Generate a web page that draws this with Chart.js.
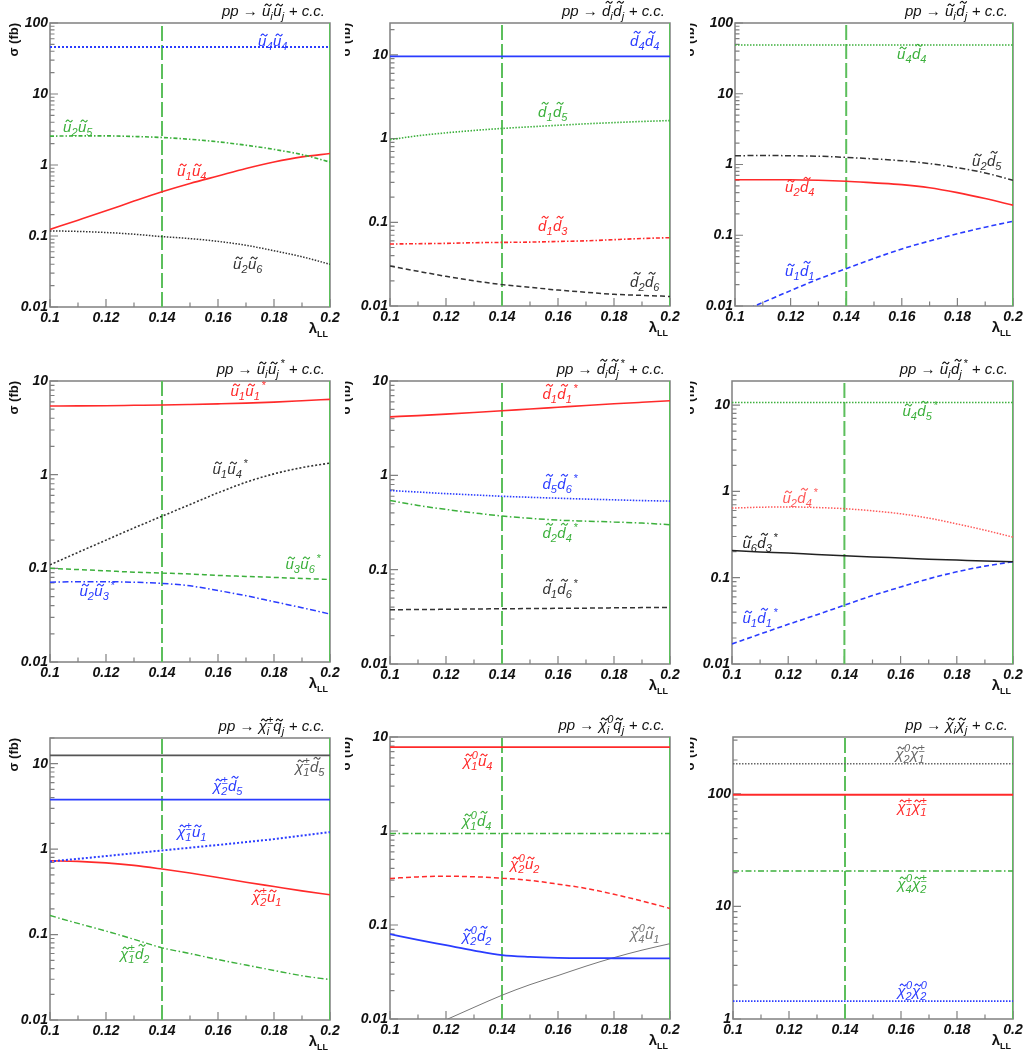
<!DOCTYPE html>
<html>
<head>
<meta charset="utf-8">
<script src="https://cdn.jsdelivr.net/npm/chart.js@4.4.1/dist/chart.umd.min.js"></script>
<style>
  body { margin: 0; background: #fff; }
  #grid { position: relative; width: 1035px; height: 1057px; }
  #grid canvas { position: absolute; }
</style>
</head>
<body>
<div id="grid"></div>
<script>
// lambda_LL scan points
const lambda = [0.10, 0.11, 0.12, 0.13, 0.14, 0.15, 0.16, 0.17, 0.18, 0.19, 0.20];
const benchmark = [0.14, 0.20];

const xTickValues = [0.10, 0.11, 0.12, 0.13, 0.14, 0.15, 0.16, 0.17, 0.18, 0.19, 0.20];
const xTickLabels = ['0.1', '0.12', '0.14', '0.16', '0.18', '0.2'];
const yTickLabels = ['0.01', '0.1', '1', '10', '100'];

// pp -> ~u ~u
const s_u4u4 = [46, 46, 46, 46, 46, 46, 46, 46, 46, 46, 46];
const s_u2u5 = [2.55, 2.57, 2.57, 2.52, 2.44, 2.30, 2.12, 1.90, 1.66, 1.40, 1.10];
const s_u1u4 = [0.124, 0.167, 0.226, 0.31, 0.42, 0.55, 0.70, 0.89, 1.10, 1.30, 1.45];
const s_u2u6 = [0.118, 0.116, 0.112, 0.106, 0.098, 0.092, 0.084, 0.074, 0.062, 0.051, 0.040];
// pp -> ~d ~d
const s_d4d4 = [9.6, 9.6, 9.6, 9.6, 9.6, 9.6, 9.6, 9.6, 9.6, 9.6, 9.6];
const s_d1d5 = [0.97, 1.08, 1.17, 1.25, 1.32, 1.38, 1.44, 1.50, 1.55, 1.60, 1.64];
const s_d1d3 = [0.055, 0.0555, 0.056, 0.057, 0.0575, 0.058, 0.059, 0.060, 0.062, 0.064, 0.0655];
const s_d2d6 = [0.030, 0.026, 0.0226, 0.020, 0.018, 0.0167, 0.0155, 0.0146, 0.0138, 0.0134, 0.013];
// pp -> ~u ~d
const s_u4d4 = [49, 49, 49, 49, 49, 49, 49, 49, 49, 49, 49];
const s_u2d5 = [1.33, 1.34, 1.33, 1.31, 1.26, 1.20, 1.13, 1.03, 0.90, 0.76, 0.60];
const s_u2d4 = [0.61, 0.61, 0.61, 0.60, 0.58, 0.55, 0.52, 0.47, 0.40, 0.33, 0.266];
const s_u1d1 = [0.0075, 0.0112, 0.0165, 0.024, 0.0337, 0.047, 0.064, 0.083, 0.105, 0.13, 0.158];
// pp -> ~u ~u*
const s_u1u1s = [5.40, 5.42, 5.45, 5.50, 5.55, 5.62, 5.70, 5.80, 5.95, 6.15, 6.37];
const s_u1u4s = [0.109, 0.148, 0.20, 0.27, 0.36, 0.48, 0.64, 0.83, 1.02, 1.19, 1.33];
const s_u3u6s = [0.100, 0.097, 0.094, 0.091, 0.089, 0.087, 0.084, 0.082, 0.080, 0.078, 0.076];
const s_u2u3s = [0.071, 0.072, 0.072, 0.071, 0.069, 0.065, 0.058, 0.051, 0.044, 0.038, 0.0325];
// pp -> ~d ~d*
const s_d1d1s = [4.17, 4.30, 4.45, 4.63, 4.83, 5.05, 5.27, 5.50, 5.73, 5.95, 6.17];
const s_d5d6s = [0.69, 0.665, 0.64, 0.62, 0.60, 0.585, 0.572, 0.56, 0.55, 0.54, 0.533];
const s_d2d4s = [0.54, 0.48, 0.435, 0.40, 0.37, 0.35, 0.335, 0.327, 0.32, 0.312, 0.30];
const s_d1d6s = [0.0376, 0.0378, 0.038, 0.0383, 0.0385, 0.0387, 0.0389, 0.0391, 0.0394, 0.0396, 0.0398];
// pp -> ~u ~d*
const s_u4d5s = [10.7, 10.7, 10.7, 10.7, 10.7, 10.7, 10.7, 10.7, 10.7, 10.7, 10.7];
const s_u2d4s = [0.64, 0.655, 0.66, 0.65, 0.63, 0.595, 0.55, 0.49, 0.42, 0.355, 0.295];
const s_u6d3s = [0.206, 0.199, 0.193, 0.186, 0.180, 0.174, 0.169, 0.164, 0.160, 0.156, 0.153];
const s_u1d1s = [0.0171, 0.0222, 0.0288, 0.037, 0.048, 0.062, 0.078, 0.097, 0.117, 0.136, 0.153];
// pp -> chargino + squark
const s_c1d5 = [12.5, 12.5, 12.5, 12.5, 12.5, 12.5, 12.5, 12.5, 12.5, 12.5, 12.5];
const s_c2d5 = [3.8, 3.8, 3.8, 3.8, 3.8, 3.8, 3.8, 3.8, 3.8, 3.8, 3.8];
const s_c1u1 = [0.717, 0.77, 0.83, 0.895, 0.965, 1.04, 1.12, 1.21, 1.31, 1.44, 1.58];
const s_c2u1 = [0.73, 0.72, 0.69, 0.645, 0.585, 0.525, 0.466, 0.41, 0.365, 0.325, 0.292];
const s_c1d2 = [0.167, 0.135, 0.11, 0.088, 0.070, 0.060, 0.051, 0.044, 0.038, 0.033, 0.0297];
// pp -> neutralino + squark
const s_n1u4 = [7.8, 7.8, 7.8, 7.8, 7.8, 7.8, 7.8, 7.8, 7.8, 7.8, 7.8];
const s_n1d4 = [0.94, 0.94, 0.94, 0.94, 0.94, 0.94, 0.94, 0.94, 0.94, 0.94, 0.94];
const s_n2u2 = [0.313, 0.325, 0.33, 0.326, 0.315, 0.298, 0.272, 0.245, 0.212, 0.18, 0.15];
const s_n2d2 = [0.080, 0.0695, 0.061, 0.0535, 0.0478, 0.0458, 0.0448, 0.0444, 0.0443, 0.0442, 0.0442];
const s_n4u1 = [0.0053, 0.0072, 0.0098, 0.0133, 0.0179, 0.0232, 0.029, 0.0365, 0.045, 0.054, 0.0633];
// pp -> gaugino pairs
const s_n2c1 = [185, 185, 185, 185, 185, 185, 185, 185, 185, 185, 185];
const s_c1c1 = [98, 98, 98, 98, 98, 98, 98, 98, 98, 98, 98];
const s_n4c2 = [20.6, 20.6, 20.6, 20.6, 20.6, 20.6, 20.6, 20.6, 20.6, 20.6, 20.6];
const s_n2n2 = [1.44, 1.44, 1.44, 1.44, 1.44, 1.44, 1.44, 1.44, 1.44, 1.44, 1.44];

const RED = '#ff2a2a', BLUE = '#2a3cff', GREEN = '#3cb03c', BLACK = '#333', GRAY = '#777';
const MARK = '#5cbf5c';
const DASH = {
  solid: [], dot: [2, 2], fine: [1.5, 1.5], dash: [5, 3], dashdot: [6, 2.5, 1.5, 2.5], finedd: [4, 2, 1.5, 2]
};

const colX = [0, 345, 690];
const rowY = [0, 352, 705];
const rowH = [352, 353, 352];
const yTitleX = [14, 1, 0];

const panels = [
  { col: 0, row: 0, box: [50, 330, 23, 307], yMin: 0.01, yMax: 100, title: 'pp → ~u_i~u_j + c.c.',
    series: [
      { name: '~u_4~u_4', data: s_u4u4, color: BLUE, dash: 'dot', w: 2, at: [273, 42] },
      { name: '~u_2~u_5', data: s_u2u5, color: GREEN, dash: 'finedd', w: 1.6, at: [78, 128] },
      { name: '~u_1~u_4', data: s_u1u4, color: RED, dash: 'solid', w: 1.6, at: [192, 172] },
      { name: '~u_2~u_6', data: s_u2u6, color: BLACK, dash: 'fine', w: 1.5, at: [248, 265] }
    ] },
  { col: 1, row: 0, box: [390, 670, 23, 306], yMin: 0.01, yMax: 24, title: 'pp → ~d_i~d_j + c.c.',
    series: [
      { name: '~d_4~d_4', data: s_d4d4, color: BLUE, dash: 'solid', w: 1.8, at: [300, 42] },
      { name: '~d_1~d_5', data: s_d1d5, color: GREEN, dash: 'fine', w: 1.6, at: [208, 113] },
      { name: '~d_1~d_3', data: s_d1d3, color: RED, dash: 'finedd', w: 1.6, at: [208, 227] },
      { name: '~d_2~d_6', data: s_d2d6, color: BLACK, dash: 'dash', w: 1.5, at: [300, 283] }
    ] },
  { col: 2, row: 0, box: [735, 1013, 23, 306], yMin: 0.01, yMax: 100, title: 'pp → ~u_i~d_j + c.c.',
    series: [
      { name: '~u_4~d_4', data: s_u4d4, color: GREEN, dash: 'fine', w: 1.5, at: [222, 55] },
      { name: '~u_2~d_5', data: s_u2d5, color: BLACK, dash: 'dashdot', w: 1.5, at: [297, 162] },
      { name: '~u_2~d_4', data: s_u2d4, color: RED, dash: 'solid', w: 1.6, at: [110, 188] },
      { name: '~u_1~d_1', data: s_u1d1, color: BLUE, dash: 'dash', w: 1.6, at: [110, 272] }
    ] },
  { col: 0, row: 1, box: [50, 330, 381, 662], yMin: 0.01, yMax: 10, title: 'pp → ~u_i~u_j^* + c.c.',
    series: [
      { name: '~u_1~u_1^*', data: s_u1u1s, color: RED, dash: 'solid', w: 1.6, at: [248, 40] },
      { name: '~u_1~u_4^*', data: s_u1u4s, color: BLACK, dash: 'dot', w: 1.6, at: [230, 118] },
      { name: '~u_3~u_6^*', data: s_u3u6s, color: GREEN, dash: 'dash', w: 1.5, at: [303, 213] },
      { name: '~u_2~u_3^*', data: s_u2u3s, color: BLUE, dash: 'dashdot', w: 1.5, at: [97, 240] }
    ] },
  { col: 1, row: 1, box: [390, 670, 381, 664], yMin: 0.01, yMax: 10, title: 'pp → ~d_i~d_j^* + c.c.',
    series: [
      { name: '~d_1~d_1^*', data: s_d1d1s, color: RED, dash: 'solid', w: 1.6, at: [215, 43] },
      { name: '~d_5~d_6^*', data: s_d5d6s, color: BLUE, dash: 'fine', w: 1.6, at: [215, 133] },
      { name: '~d_2~d_4^*', data: s_d2d4s, color: GREEN, dash: 'dashdot', w: 1.5, at: [215, 182] },
      { name: '~d_1~d_6^*', data: s_d1d6s, color: BLACK, dash: 'dash', w: 1.5, at: [215, 238] }
    ] },
  { col: 2, row: 1, box: [732, 1013, 381, 664], yMin: 0.01, yMax: 19, title: 'pp → ~u_i~d_j^* + c.c.',
    series: [
      { name: '~u_4~d_5^*', data: s_u4d5s, color: GREEN, dash: 'fine', w: 1.5, at: [230, 60] },
      { name: '~u_2~d_4^*', data: s_u2d4s, color: '#ff5a5a', dash: 'fine', w: 1.5, at: [110, 147] },
      { name: '~u_6~d_3^*', data: s_u6d3s, color: '#222', dash: 'solid', w: 1.5, at: [70, 192] },
      { name: '~u_1~d_1^*', data: s_u1d1s, color: BLUE, dash: 'dash', w: 1.6, at: [70, 267] }
    ] },
  { col: 0, row: 2, box: [50, 330, 738, 1020], yMin: 0.01, yMax: 20, title: 'pp → ~χ^±_i~q_j + c.c.',
    series: [
      { name: '~χ^±_1~d_5', data: s_c1d5, color: '#555', dash: 'solid', w: 1.8, at: [310, 63] },
      { name: '~χ^±_2~d_5', data: s_c2d5, color: BLUE, dash: 'solid', w: 1.6, at: [228, 82] },
      { name: '~χ^±_1~u_1', data: s_c1u1, color: BLUE, dash: 'dot', w: 2, at: [192, 128] },
      { name: '~χ^±_2~u_1', data: s_c2u1, color: RED, dash: 'solid', w: 1.6, at: [267, 193] },
      { name: '~χ^±_1~d_2', data: s_c1d2, color: GREEN, dash: 'dashdot', w: 1.4, at: [135, 250] }
    ] },
  { col: 1, row: 2, box: [390, 670, 737, 1019], yMin: 0.01, yMax: 10, title: 'pp → ~χ^0_i~q_j + c.c.',
    series: [
      { name: '~χ^0_1~u_4', data: s_n1u4, color: RED, dash: 'solid', w: 1.6, at: [133, 57] },
      { name: '~χ^0_1~d_4', data: s_n1d4, color: GREEN, dash: 'dashdot', w: 1.5, at: [132, 117] },
      { name: '~χ^0_2~u_2', data: s_n2u2, color: RED, dash: 'dash', w: 1.5, at: [180, 160] },
      { name: '~χ^0_2~d_2', data: s_n2d2, color: BLUE, dash: 'solid', w: 1.8, at: [132, 232] },
      { name: '~χ^0_4~u_1', data: s_n4u1, color: GRAY, dash: 'solid', w: 1, at: [300, 230] }
    ] },
  { col: 2, row: 2, box: [733, 1013, 737, 1019], yMin: 1, yMax: 320, title: 'pp → ~χ_i~χ_j + c.c.',
    series: [
      { name: '~χ^0_2~χ^±_1', data: s_n2c1, color: '#666', dash: 'fine', w: 1.5, at: [220, 50] },
      { name: '~χ^±_1~χ^±_1', data: s_c1c1, color: RED, dash: 'solid', w: 2, at: [222, 103] },
      { name: '~χ^0_4~χ^±_2', data: s_n4c2, color: GREEN, dash: 'dashdot', w: 1.5, at: [222, 180] },
      { name: '~χ^0_2~χ^0_2', data: s_n2n2, color: BLUE, dash: 'fine', w: 1.6, at: [222, 287] }
    ] }
];

Chart.defaults.font.family = 'Liberation Sans';
const tickFont = { family: 'Liberation Sans', size: 14, style: 'italic', weight: 'bold' };

// "~u_4^*" style markup: ~ puts a tilde on the next glyph, _x / ^x attach scripts
function parseRich(str) {
  const toks = [];
  let i = 0;
  while (i < str.length) {
    let tilde = false;
    if (str[i] === '~') { tilde = true; i++; }
    const t = { c: str[i], tilde, sub: '', sup: '' };
    i++;
    while (str[i] === '_' || str[i] === '^') {
      if (str[i] === '_') t.sub = str[i + 1]; else t.sup = str[i + 1];
      i += 2;
    }
    toks.push(t);
  }
  return toks;
}

function drawRich(ctx, str, x, y, fs, color, align) {
  const toks = parseRich(str);
  const big = 'italic ' + fs + 'px Liberation Sans';
  const small = 'italic ' + Math.round(fs * 0.7) + 'px Liberation Sans';
  const parts = toks.map(t => {
    ctx.font = big;
    const w = ctx.measureText(t.c).width;
    ctx.font = small;
    const subW = t.sub ? ctx.measureText(t.sub).width : 0;
    const supW = t.sup ? ctx.measureText(t.sup).width : 0;
    // a star sits after the subscript, other superscripts stack over it
    const starAfter = t.sup === '*';
    const sw = starAfter ? subW + supW + 1.5 : Math.max(subW, supW) + (subW || supW ? 0.5 : 0);
    return { t, w, sw, subW, starAfter };
  });
  const total = parts.reduce((a, p) => a + p.w + p.sw, 0);
  let cx = align === 'right' ? x - total : align === 'center' ? x - total / 2 : x;
  ctx.save();
  ctx.fillStyle = color;
  ctx.strokeStyle = color;
  ctx.textAlign = 'left';
  ctx.textBaseline = 'alphabetic';
  parts.forEach(p => {
    ctx.font = big;
    ctx.fillText(p.t.c, cx, y);
    if (p.t.tilde) {
      const tall = 'dbhkl'.includes(p.t.c);
      const ty = y - fs * (tall ? 0.78 : 0.6) - 2;
      const x0 = cx + p.w * 0.15 + (tall ? 2.5 : 1.5), ww = p.w * 0.8;
      ctx.lineWidth = 1.1;
      ctx.beginPath();
      ctx.moveTo(x0, ty + 1);
      ctx.quadraticCurveTo(x0 + ww * 0.25, ty - 2.2, x0 + ww * 0.5, ty);
      ctx.quadraticCurveTo(x0 + ww * 0.75, ty + 2.2, x0 + ww, ty - 1);
      ctx.stroke();
    }
    cx += p.w;
    ctx.font = small;
    if (p.t.sub) ctx.fillText(p.t.sub, cx, y + fs * 0.28);
    if (p.t.sup) {
      const sx = p.starAfter ? cx + p.subW + 1.5 : cx + 0.5;
      ctx.fillText(p.t.sup, sx, y - fs * 0.45);
    }
    cx += p.sw;
  });
  ctx.restore();
}

function yTicksFor(min, max) {
  const out = [];
  for (let e = Math.floor(Math.log10(min)); e <= Math.ceil(Math.log10(max)); e++) {
    for (let m = 1; m <= 9; m++) {
      const v = Number((m * Math.pow(10, e)).toPrecision(2));
      if (v >= min * 0.999 && v <= max * 1.001) out.push(v);
    }
  }
  return out;
}

function panelPlugin(p, cx, cy) {
  return {
    id: 'panelDecor',
    beforeDatasetsDraw(chart) {
      const { ctx, chartArea: a, scales: { x, y } } = chart;
      ctx.save();
      ctx.strokeStyle = '#808080';
      ctx.lineWidth = 1.5;
      ctx.strokeRect(a.left, a.top, a.right - a.left, a.bottom - a.top);
      ctx.lineWidth = 1.2;
      ctx.beginPath();
      x.ticks.forEach(t => {
        const px = x.getPixelForValue(t.value);
        const len = xTickLabels.includes(String(t.value)) ? 8 : 4.5;
        ctx.moveTo(px, a.bottom);
        ctx.lineTo(px, a.bottom - len);
      });
      y.ticks.forEach(t => {
        const py = y.getPixelForValue(t.value);
        const len = yTickLabels.includes(String(t.value)) ? 8 : 4.5;
        ctx.moveTo(a.left, py);
        ctx.lineTo(a.left + len, py);
      });
      ctx.stroke();
      ctx.restore();
    },
    afterDraw(chart) {
      const { ctx, chartArea: a } = chart;
      // process title
      drawRich(ctx, p.title, a.right - 5, a.top - 7, 15, '#111', 'right');
      // curve labels
      p.series.forEach(s => drawRich(ctx, s.name, s.at[0], s.at[1] + 4, 15, s.color, 'center'));
      // sigma (fb)
      ctx.save();
      ctx.translate(yTitleX[p.col], a.top);
      ctx.rotate(-Math.PI / 2);
      ctx.font = 'bold 13px Liberation Sans';
      ctx.fillStyle = '#111';
      ctx.textAlign = 'right';
      ctx.textBaseline = 'middle';
      ctx.fillText('σ (fb)', 0, 0);
      ctx.restore();
      // lambda_LL
      ctx.save();
      ctx.fillStyle = '#111';
      ctx.font = 'bold 9px Liberation Sans';
      const lw = ctx.measureText('LL').width;
      ctx.textAlign = 'right';
      ctx.fillText('LL', a.right - 2, a.bottom + 30);
      ctx.font = 'bold 15px Liberation Sans';
      ctx.fillText('λ', a.right - 2 - lw, a.bottom + 26);
      ctx.restore();
    }
  };
}

const grid = document.getElementById('grid');

panels.forEach(p => {
  const cx = colX[p.col], cy = rowY[p.row], ch = rowH[p.row];
  const [L, R, T, B] = p.box;
  const cv = document.createElement('canvas');
  cv.width = 345;
  cv.height = ch;
  cv.style.left = cx + 'px';
  cv.style.top = cy + 'px';
  grid.appendChild(cv);

  const datasets = p.series.map(s => ({
    data: lambda.map((x, i) => ({ x, y: s.data[i] })),
    borderColor: s.color,
    borderWidth: s.w,
    borderDash: DASH[s.dash],
    pointRadius: 0,
    cubicInterpolationMode: 'monotone',
    fill: false
  }));
  // benchmark lambda lines (drawn beneath the curves)
  datasets.push({
    data: [{ x: benchmark[0], y: p.yMin }, { x: benchmark[0], y: p.yMax }],
    borderColor: MARK, borderWidth: 2, borderDash: [15, 4], pointRadius: 0
  });
  datasets.push({
    data: [{ x: benchmark[1], y: p.yMin }, { x: benchmark[1], y: p.yMax }],
    borderColor: MARK, borderWidth: 2, pointRadius: 0
  });

  new Chart(cv, {
    type: 'line',
    data: { datasets },
    options: {
      responsive: false,
      animation: false,
      events: [],
      layout: { padding: { left: 0, bottom: 0, top: T - cy, right: cx + 345 - R } },
      plugins: { legend: { display: false }, tooltip: { enabled: false } },
      scales: {
        x: {
          type: 'linear', min: 0.1, max: 0.2,
          afterBuildTicks: s => { s.ticks = xTickValues.map(v => ({ value: v })); },
          afterFit: s => { s.height = cy + ch - B; },
          grid: { display: false, drawTicks: false }, border: { display: false },
          ticks: {
            autoSkip: false, maxRotation: 0, padding: 3, font: tickFont, color: '#111',
            callback: v => xTickLabels.includes(String(v)) ? String(v) : ''
          }
        },
        y: {
          type: 'logarithmic', min: p.yMin, max: p.yMax,
          afterBuildTicks: s => { s.ticks = yTicksFor(p.yMin, p.yMax).map(v => ({ value: v })); },
          afterFit: s => { s.width = L - cx; },
          grid: { display: false, drawTicks: false }, border: { display: false },
          ticks: {
            autoSkip: false, padding: 2, font: tickFont, color: '#111',
            callback: v => yTickLabels.includes(String(v)) ? String(v) : ''
          }
        }
      }
    },
    plugins: [panelPlugin(p, cx, cy)]
  });
});
</script>
</body>
</html>
